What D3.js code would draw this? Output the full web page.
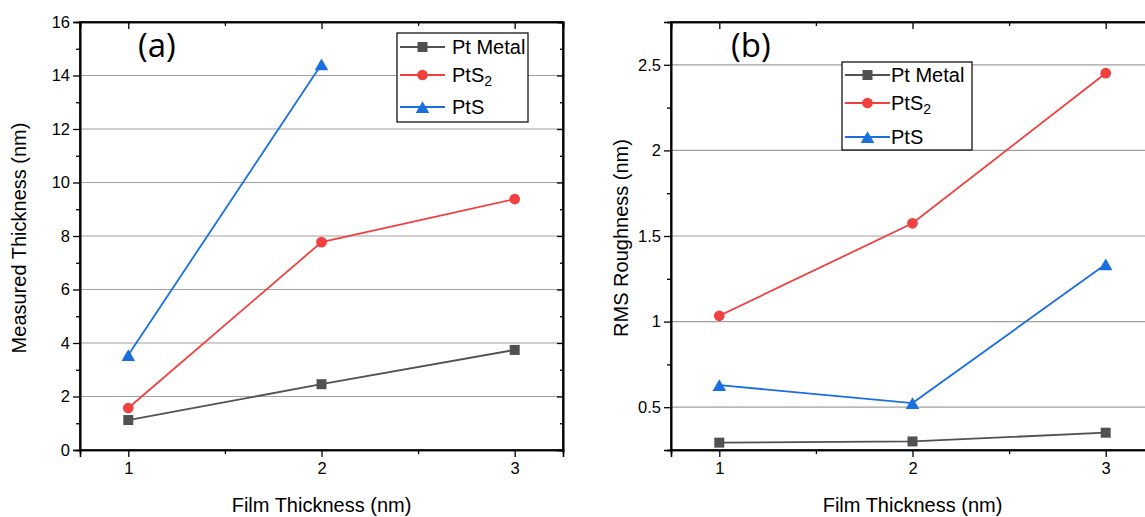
<!DOCTYPE html>
<html><head><meta charset="utf-8">
<script src="https://cdn.jsdelivr.net/npm/d3@7"></script>
<style>body{margin:0;background:#fff}svg{display:block}text{font-family:"Liberation Sans",Arial,sans-serif}</style>
</head><body>
<svg id="c" width="1145" height="517"></svg>
<script>
const filmThickness = [1, 2, 3];
const seriesNames = ["Pt Metal", "PtS2", "PtS"];
const seriesColors = ["#515151", "#F14040", "#1A6FDF"];
const seriesShapes = ["square", "circle", "triangle"];
// Panel (a) measured thickness (nm)
const aPtMetal = [1.12, 2.46, 3.74];
const aPtS2 = [1.57, 7.77, 9.38];
const aPtS = [3.55, 14.42];
// Panel (b) RMS roughness (nm)
const bPtMetal = [0.293, 0.30, 0.351];
const bPtS2 = [1.034, 1.574, 2.451];
const bPtS = [0.629, 0.524, 1.335];
const aYTicks = [0, 2, 4, 6, 8, 10, 12, 14, 16];
const bYTicks = [0.5, 1, 1.5, 2, 2.5];
const xTicks = [1, 2, 3];

const svg = d3.select("#c");
const sym = {square: d3.symbolSquare, circle: d3.symbolCircle, triangle: d3.symbolTriangle};
const symSize = {square: 100, circle: 90, triangle: 80};

function panel(cfg) {
  const g = svg.append("g");
  const x = d3.scaleLinear().domain([0.75, 3.25]).range([cfg.left, cfg.left + 483]);
  const y = d3.scaleLinear().domain(cfg.yDomain).range([450, 22]);
  // grid
  g.append("g").selectAll("line").data(cfg.grid).join("line")
    .attr("x1", x.range()[0]).attr("x2", x.range()[1])
    .attr("y1", d => y(d)).attr("y2", d => y(d))
    .attr("stroke", "#a0a0a0").attr("stroke-width", 1.2);
  const minorY = cfg.minorY;
  const minorX = [1.5, 2.5];
  g.append("g").attr("transform", `translate(${x.range()[0]},0)`)
    .call(d3.axisLeft(y).tickValues(cfg.yTicks).tickSize(7).tickPadding(3).tickFormat(d3.format("")));
  g.append("g").attr("transform", `translate(${x.range()[0]},0)`)
    .call(d3.axisLeft(y).tickValues(minorY).tickSize(4).tickFormat(""));
  g.append("g").attr("transform", `translate(${x.range()[1]},0)`)
    .call(d3.axisLeft(y).tickValues(cfg.yTicks).tickSize(6).tickFormat(""));
  g.append("g").attr("transform", `translate(${x.range()[1]},0)`)
    .call(d3.axisLeft(y).tickValues(minorY).tickSize(3).tickFormat(""));
  g.append("g").attr("transform", `translate(0,450)`)
    .call(d3.axisBottom(x).tickValues(xTicks).tickSize(7).tickPadding(5).tickFormat(d3.format("d")));
  g.append("g").attr("transform", `translate(0,450)`)
    .call(d3.axisBottom(x).tickValues(minorX).tickSize(4).tickFormat(""));
  g.append("g").attr("transform", `translate(0,22)`)
    .call(d3.axisBottom(x).tickValues(xTicks).tickSize(7).tickFormat(""));
  g.append("g").attr("transform", `translate(0,22)`)
    .call(d3.axisBottom(x).tickValues(minorX).tickSize(4).tickFormat(""));
  g.selectAll(".domain").attr("stroke", "#000").attr("stroke-width", 1.6);
  g.selectAll(".tick line").attr("stroke", "#000").attr("stroke-width", 1.3);
  g.selectAll(".tick text").attr("font-size", 16.5).attr("fill", "#000")
    .style("font-family", '"Liberation Sans",Arial,sans-serif');
  g.append("rect").attr("x", x.range()[0]).attr("y", 22).attr("width", x.range()[1] - x.range()[0]).attr("height", 428)
    .attr("fill", "none").attr("stroke", "#000").attr("stroke-width", 1.6);

  cfg.series.forEach((vals, i) => {
    const pts = vals.map((v, j) => [filmThickness[j], v]);
    g.append("path").datum(pts)
      .attr("d", d3.line().x(d => x(d[0])).y(d => y(d[1])))
      .attr("fill", "none").attr("stroke", seriesColors[i]).attr("stroke-width", 1.8);
    g.selectAll(null).data(pts).join("path")
      .attr("transform", d => `translate(${x(d[0])},${y(d[1]) + (seriesShapes[i] === "triangle" ? 2 : 0)})`)
      .attr("d", d3.symbol().type(sym[seriesShapes[i]]).size(symSize[seriesShapes[i]]))
      .attr("fill", seriesColors[i]);
  });

  g.append("text").attr("transform", `translate(${cfg.yTitleX},${cfg.yTitleY}) rotate(-90)`)
    .attr("text-anchor", "middle").attr("dominant-baseline", "central")
    .attr("font-size", 20).text(cfg.yTitle);
  g.append("text").attr("x", (x(1) + x(3)) / 2).attr("y", 512)
    .attr("text-anchor", "middle").attr("font-size", 20).text("Film Thickness (nm)");
  g.append("text").attr("x", cfg.labelX).attr("y", 57).attr("font-size", 33)
    .style("font-family", '"Open Sans",sans-serif').text(cfg.label);

  const L = cfg.legend;
  g.append("rect").attr("x", L.x).attr("y", L.y).attr("width", L.w).attr("height", L.h)
    .attr("fill", "#fff").attr("stroke", "#000").attr("stroke-width", 1.2);
  L.rows.forEach((ry, i) => {
    g.append("line").attr("x1", L.x + 3).attr("x2", L.x + 48).attr("y1", ry).attr("y2", ry)
      .attr("stroke", seriesColors[i]).attr("stroke-width", 1.8);
    g.append("path").attr("transform", `translate(${L.x + 25.5},${ry + (seriesShapes[i] === "triangle" ? 2 : 0)})`)
      .attr("d", d3.symbol().type(sym[seriesShapes[i]]).size(symSize[seriesShapes[i]]))
      .attr("fill", seriesColors[i]);
    const t = g.append("text").attr("x", L.x + L.tx).attr("y", ry).attr("dominant-baseline", "central")
      .attr("font-size", 20);
    const nm = seriesNames[i];
    if (nm === "PtS2") {
      t.append("tspan").text("PtS");
      t.append("tspan").attr("font-size", 14).attr("dy", 6).text("2");
    } else t.text(nm);
  });
}

panel({
  left: 80, yDomain: [0, 16], yTicks: aYTicks, minorY: [1, 3, 5, 7, 9, 11, 13, 15],
  grid: [2, 4, 6, 8, 10, 12, 14], series: [aPtMetal, aPtS2, aPtS],
  yTitle: "Measured Thickness (nm)", yTitleX: 19, yTitleY: 238, label: "(a)", labelX: 138,
  legend: {x: 397, y: 33, w: 131, h: 89, tx: 55, rows: [47, 75, 107]}
});
panel({
  left: 671, yDomain: [0.25, 2.75], yTicks: bYTicks, minorY: [0.25, 0.75, 1.25, 1.75, 2.25, 2.75],
  grid: [0.5, 1, 1.5, 2, 2.5], series: [bPtMetal, bPtS2, bPtS],
  yTitle: "RMS Roughness (nm)", yTitleX: 621, yTitleY: 238, label: "(b)", labelX: 731,
  legend: {x: 842, y: 62, w: 130, h: 88, tx: 49, rows: [75, 103, 137]}
});
</script>
</body></html>
